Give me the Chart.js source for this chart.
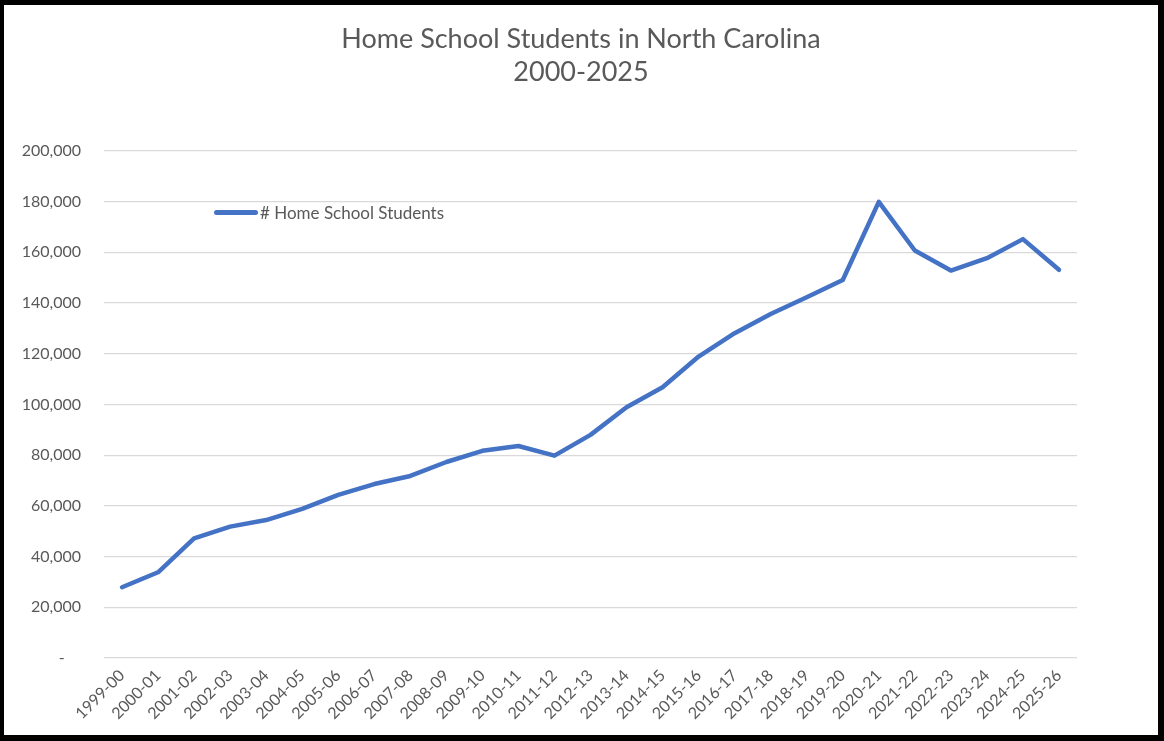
<!DOCTYPE html>
<html>
<head>
<meta charset="utf-8">
<script src="https://cdn.jsdelivr.net/npm/chart.js@4.4.1/dist/chart.umd.min.js"></script>
<style>
    html, body { margin: 0; padding: 0; background: #fff; }
    #frame {
        position: relative;
        width: 1154px;
        height: 730px;
        border-style: solid;
        border-color: #000;
        border-width: 5px 6px 6px 4px;
        background: #fff;
    }
    #chart { display: block; }
    .legend {
        position: absolute;
        left: 210px;
        top: 197px;
        display: flex;
        align-items: center;
        font-family: Lato, sans-serif;
        font-size: 17px;
        color: #595959;
    }
    .legend-line {
        width: 44px;
        height: 5px;
        border-radius: 3px;
        background: #4472C4;
        margin-right: 2px;
    }
</style>
</head>
<body>
<div id="frame">
    <canvas id="chart" width="1154" height="730"></canvas>
    <div class="legend"><span class="legend-line"></span><span id="legendLabel"></span></div>
</div>
<script>
// Anni scolastici
const schoolYears = [
    '1999-00', '2000-01', '2001-02', '2002-03', '2003-04', '2004-05', '2005-06',
    '2006-07', '2007-08', '2008-09', '2009-10', '2010-11', '2011-12', '2012-13',
    '2013-14', '2014-15', '2015-16', '2016-17', '2017-18', '2018-19', '2019-20',
    '2020-21', '2021-22', '2022-23', '2023-24', '2024-25', '2025-26'
];

// Numero di studenti
const homeSchoolStudents = [
    27900, 33800, 47200, 51800, 54400, 58800, 64300,
    68600, 71800, 77300, 81700, 83600, 79800, 88000,
    98900, 106800, 118900, 128100, 135700, 142300, 149100,
    179900, 160700, 152800, 157700, 165200, 153100
];

const seriesLabel = '# Home School Students';
const titleLines = ['Home School Students in North Carolina', '2000-2025'];
const yTicks = [0, 20000, 40000, 60000, 80000, 100000, 120000, 140000, 160000, 180000, 200000];

const textColor = '#595959';
const fontFamily = 'Lato, sans-serif';

document.getElementById('legendLabel').textContent = seriesLabel;

const ctx = document.getElementById('chart');
new Chart(ctx, {
    type: 'line',
    data: {
        labels: schoolYears,
        datasets: [{
            label: seriesLabel,
            data: homeSchoolStudents,
            borderColor: '#4472C4',
            backgroundColor: '#4472C4',
            borderWidth: 4.5,
            pointRadius: 0,
            tension: 0,
            borderCapStyle: 'round',
            borderJoinStyle: 'round'
        }]
    },
    options: {
        responsive: false,
        animation: false,
        layout: { padding: 0 },
        plugins: {
            legend: { display: false },
            tooltip: { enabled: false },
            title: {
                display: true,
                text: titleLines,
                color: textColor,
                font: { family: fontFamily, size: 27, weight: 'normal', lineHeight: 1.22 },
                padding: { top: 18, bottom: 62 }
            }
        },
        scales: {
            x: {
                offset: true,
                grid: { display: false, drawTicks: false },
                border: { display: false },
                ticks: {
                    color: textColor,
                    font: { family: fontFamily, size: 16 },
                    minRotation: 45,
                    maxRotation: 45,
                    autoSkip: false,
                    padding: 8
                },
                afterFit: scale => { scale.height = 77; }
            },
            y: {
                min: 0,
                max: 200000,
                afterBuildTicks: scale => {
                    scale.ticks = yTicks.map(v => ({ value: v }));
                },
                grid: { color: '#D9D9D9', lineWidth: 1.3, drawTicks: false },
                border: { display: false },
                ticks: {
                    color: textColor,
                    font: { family: fontFamily, size: 16 },
                    padding: 23,
                    callback: v => v === 0 ? '-    ' : v.toLocaleString('en-US')
                },
                afterFit: scale => { scale.width = 100; }
            },
            // spazio vuoto a destra, così il titolo resta centrato sul riquadro
            rightSpace: {
                type: 'linear',
                position: 'right',
                grid: { display: false, drawTicks: false },
                border: { display: false },
                ticks: { display: false },
                afterFit: scale => { scale.width = 81; }
            }
        }
    }
});
</script>
</body>
</html>
